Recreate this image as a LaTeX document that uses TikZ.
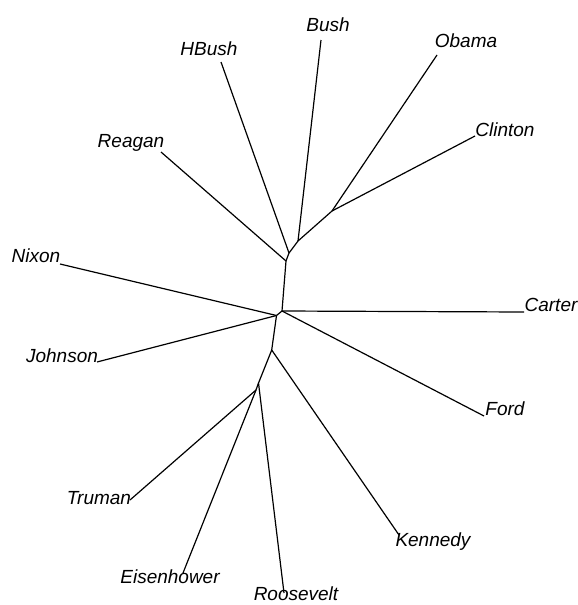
\documentclass[tikz,border=0pt]{standalone}
\usepackage{fontspec}
\setmainfont{Liberation Sans}
\begin{document}
\begin{tikzpicture}[x=1pt,y=-1pt,
  edge/.style={line width=1.2pt, black},
  lab/.style={font=\fontsize{19}{22}\selectfont\itshape, inner sep=0pt, anchor=center}]
\useasboundingbox (0,0) rectangle (578,605);
% internal nodes
\coordinate (n5) at (332,211);
\coordinate (n4) at (298,241);
\coordinate (n2) at (289,253);
\coordinate (n1) at (286,261);
\coordinate (n3) at (282,311);
\coordinate (n6) at (276.5,315.5);
\coordinate (n8) at (271.7,350);
\coordinate (n9) at (258.5,383);
\coordinate (n10) at (256,390);
% tips
\coordinate (tBush) at (321,40);
\coordinate (tHBush) at (221,62);
\coordinate (tObama) at (437,55);
\coordinate (tClinton) at (475,136);
\coordinate (tReagan) at (161,152);
\coordinate (tNixon) at (60,264);
\coordinate (tCarter) at (524,312);
\coordinate (tJohnson) at (97,362);
\coordinate (tFord) at (484,416);
\coordinate (tTruman) at (130,500);
\coordinate (tKennedy) at (399,535);
\coordinate (tEisenhower) at (183,573);
\coordinate (tRoosevelt) at (284,593);
% labels
\node[lab] (lBush) at (328,25) {Bush};
\node[lab] (lHBush) at (209,49) {HBush};
\node[lab] (lObama) at (466,41) {Obama};
\node[lab] (lClinton) at (505,130) {Clinton};
\node[lab] (lReagan) at (131,143) {Reagan};
\node[lab] (lNixon) at (36,256) {Nixon};
\node[lab] (lCarter) at (551,305) {Carter};
\node[lab] (lJohnson) at (62,356) {Johnson};
\node[lab] (lFord) at (505,409) {Ford};
\node[lab] (lTruman) at (99,498) {Truman};
\node[lab] (lKennedy) at (433,542) {Kennedy};
\node[lab] (lEisenhower) at (170,577) {Eisenhower};
\node[lab] (lRoosevelt) at (296,594) {Roosevelt};
% edges
\draw[edge] (n5) -- (tObama);
\draw[edge] (n5) -- (tClinton);
\draw[edge] (n4) -- (n5);
\draw[edge] (n4) -- (tBush);
\draw[edge] (n2) -- (n4);
\draw[edge] (n2) -- (tHBush);
\draw[edge] (n1) -- (n2);
\draw[edge] (n1) -- (tReagan);
\draw[edge] (n3) -- (n1);
\draw[edge] (n3) -- (tCarter);
\draw[edge] (n3) -- (tFord);
\draw[edge] (n6) -- (n3);
\draw[edge] (n6) -- (tNixon);
\draw[edge] (n6) -- (tJohnson);
\draw[edge] (n8) -- (n6);
\draw[edge] (n8) -- (tKennedy);
\draw[edge] (n9) -- (n8);
\draw[edge] (n9) -- (tRoosevelt);
\draw[edge] (n10) -- (n9);
\draw[edge] (n10) -- (tTruman);
\draw[edge] (n10) -- (tEisenhower);
\end{tikzpicture}
\end{document}
